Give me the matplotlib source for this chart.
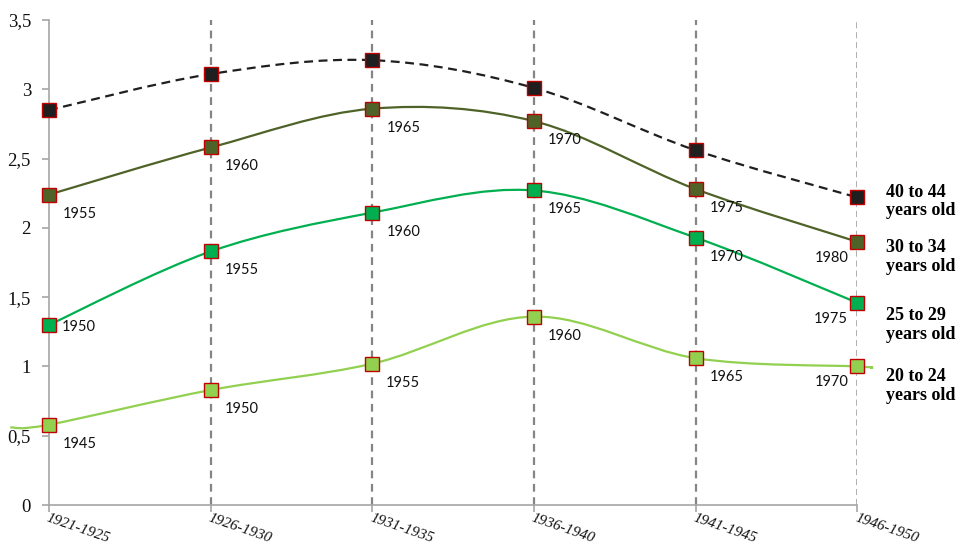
import numpy as np
import matplotlib.pyplot as plt
from matplotlib.path import Path
from matplotlib.patches import PathPatch
from matplotlib.ticker import FuncFormatter

# 数据
periods = ["1921-1925", "1926-1930", "1931-1935", "1936-1940", "1941-1945", "1946-1950"]
groups = ["40 to 44\nyears old", "30 to 34\nyears old", "25 to 29\nyears old", "20 to 24\nyears old"]

v40 = [2.85, 3.11, 3.21, 3.01, 2.56, 2.22]
v30 = [2.24, 2.58, 2.86, 2.77, 2.28, 1.90]
v25 = [1.30, 1.83, 2.11, 2.27, 1.93, 1.46]
v20 = [0.58, 0.83, 1.02, 1.36, 1.06, 1.00]

yr30 = ["1955", "1960", "1965", "1970", "1975", "1980"]
yr25 = ["1950", "1955", "1960", "1965", "1970", "1975"]
yr20 = ["1945", "1950", "1955", "1960", "1965", "1970"]

# 20-24 曲线两端超出坐标轴的延伸点
v20_ext_left = (-0.24, 0.56)
v20_ext_right = (5.08, 0.99)

tag_y = [2.19, 1.79, 1.30, 0.86]

series = [
    (v40, None, "#1f1f1f", "#1f1f1f", (0, (4, 2.5))),
    (v30, yr30, "#4f6228", "#4f6228", "-"),
    (v25, yr25, "#00b050", "#00b050", "-"),
    (v20, yr20, "#92d050", "#92d050", "-"),
]


def smooth_path(xs, ys):
    # Excel 风格平滑曲线 (Catmull-Rom -> Bezier)
    pts = np.column_stack([xs, ys])
    n = len(pts)
    verts = [pts[0]]
    codes = [Path.MOVETO]
    for i in range(n - 1):
        p0 = pts[i - 1] if i > 0 else pts[i]
        p1 = pts[i]
        p2 = pts[i + 1]
        p3 = pts[i + 2] if i + 2 < n else pts[i + 1]
        c1 = p1 + (p2 - p0) / 6
        c2 = p2 - (p3 - p1) / 6
        verts += [c1, c2, p2]
        codes += [Path.CURVE4] * 3
    return Path(verts, codes)


plt.rcParams['font.family'] = ['Liberation Serif', 'DejaVu Serif']

fig = plt.figure(figsize=(9.61, 5.49), dpi=100)
ax = fig.add_axes([0.051, 0.080, 0.841, 0.8836])

x = np.arange(len(periods))

# 竖直虚线
for i in x[1:]:
    if i == x[-1]:
        ax.axvline(i, color="#9a9a9a", lw=1.1, ls=(0, (4, 2.5)), zorder=1)
    else:
        ax.axvline(i, color="#858585", lw=1.6, ls=(0, (3.5, 2.5)), zorder=1)

for k, (vals, yrs, lc, fc, ls) in enumerate(series):
    xs = list(x)
    ys = list(vals)
    if k == 3:
        xs = [v20_ext_left[0]] + xs + [v20_ext_right[0]]
        ys = [v20_ext_left[1]] + ys + [v20_ext_right[1]]
    patch = PathPatch(smooth_path(xs, ys), fill=False, edgecolor=lc, lw=1.6,
                      ls=ls, transform=ax.transData, clip_on=False, zorder=3)
    ax.add_patch(patch)
    ax.plot(x, vals, ls="none", marker="s", ms=9.5, mfc=fc, mec="#c00000",
            mew=1.0, clip_on=False, zorder=4)
    if yrs is not None:
        for i, (xv, yv, t) in enumerate(zip(x, vals, yrs)):
            if i == len(x) - 1:
                off = (-26, -16)
            elif k == 2 and i == 0:
                off = (30, -2)
            else:
                off = (31, -19)
            ax.annotate(t, (xv, yv), xytext=off, textcoords="offset pixels",
                        ha="center", va="center", fontsize=10.5, family="Lato",
                        color="#111111", zorder=5)
    ax.text(1.036, tag_y[k], groups[k], transform=ax.get_yaxis_transform(),
            ha="left", va="center", fontsize=13, fontweight="bold",
            linespacing=1.12)

ax.set_xlim(0, 5)
ax.set_ylim(0, 3.5)
ax.set_yticks(np.arange(0, 3.51, 0.5))
ax.yaxis.set_major_formatter(FuncFormatter(lambda v, p: ("%g" % v).replace(".", ",")))
ax.set_xticks(x)
ax.set_xticklabels(periods, rotation=-19, ha="left", va="top",
                   rotation_mode="anchor", fontstyle="italic", fontsize=11)
for lab in ax.get_yticklabels():
    lab.set_fontsize(13.5)

for s in ["top", "right"]:
    ax.spines[s].set_visible(False)
for s in ["left", "bottom"]:
    ax.spines[s].set_color("#a6a6a6")
    ax.spines[s].set_linewidth(1.2)
ax.tick_params(axis="both", colors="#a6a6a6", labelcolor="#111111", length=5, width=1.2)
ax.tick_params(axis="y", pad=8)
ax.tick_params(axis="x", pad=0)

plt.savefig("out.png", dpi=100)
